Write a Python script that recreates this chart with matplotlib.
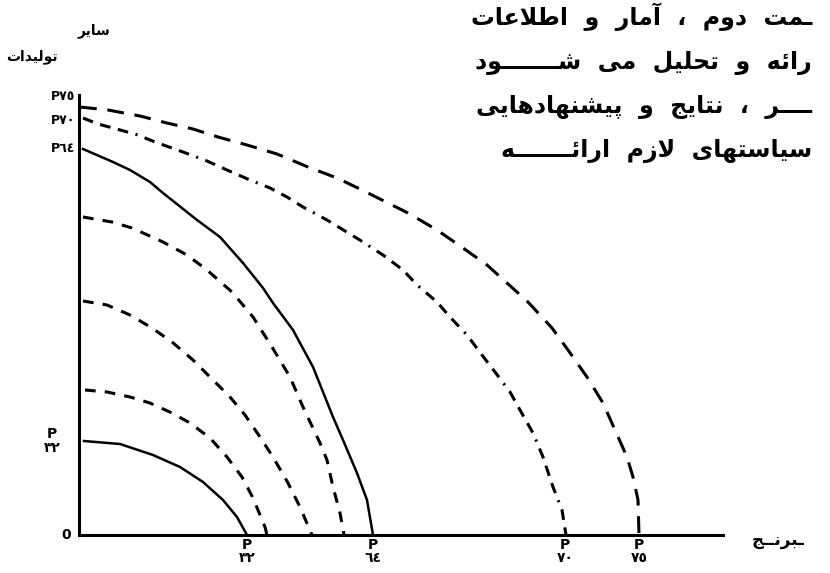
import matplotlib
matplotlib.use('Agg')
import matplotlib.pyplot as plt

plt.rcParams['font.family'] = ['DejaVu Sans']
plt.rcParams['font.weight'] = 'bold'

# curve points (distance from the origin, in picture units)
a_x = [5, 41, 74, 101, 124, 144, 158, 168]
a_y = [94, 91, 80, 68, 53, 35, 18, 0]
b_x = [6, 28, 51, 71, 93, 111, 131, 148, 163, 174, 186, 188]
b_y = [145, 143, 138, 132, 122, 112, 97, 78, 58, 37, 8, 0]
c_x = [4, 28, 51, 73, 93, 114, 131, 151, 166, 181, 194, 209, 221, 233]
c_y = [234, 230, 220, 207, 193, 175, 158, 138, 120, 98, 78, 52, 28, 0]
d_x = [4, 33, 53, 84, 108, 128, 153, 174, 193, 211, 224, 241, 248, 254, 261, 265]
d_y = [318, 313, 307, 293, 280, 265, 243, 218, 188, 158, 128, 92, 75, 48, 22, 0]
e_x = [4, 34, 51, 71, 84, 118, 141, 164, 184, 194, 214, 234, 254, 264, 278, 288, 294]
e_y = [386, 373, 365, 353, 342, 315, 298, 272, 247, 232, 205, 168, 118, 95, 62, 35, 0]
f_x = [4, 19, 34, 59, 76, 104, 128, 148, 171, 191, 208, 224, 248, 271, 284, 304,
       324, 338, 358, 371, 388, 403, 416, 431, 441, 454, 464, 474, 483, 487]
f_y = [417, 411, 407, 400, 393, 383, 374, 365, 355, 347, 338, 328, 315, 301, 293, 280,
       265, 250, 233, 218, 200, 180, 163, 143, 125, 102, 78, 48, 25, 0]
g_x = [1, 29, 61, 88, 114, 139, 168, 198, 229, 258, 283, 309, 329, 358, 384, 408,
       428, 449, 473, 489, 508, 524, 536, 548, 554, 559, 560]
g_y = [428, 425, 419, 412, 406, 398, 390, 381, 368, 357, 345, 332, 322, 305, 287, 270,
       252, 233, 207, 185, 158, 132, 105, 78, 58, 35, 0]

x_ticks = [168, 294, 486, 560]
x_labels = ['P\n٣٢', 'P\n٦٤', 'P\n٧٠', 'P\n٧٥']
y_labels = ['P٧٥', 'P٧٠', 'P٦٤']

text_lines = ['ـمت  دوم  ،  آمار  و  اطلاعات',
              'رائه  و  تحلیل  می  شـــــــود',
              'ــــر  ،  نتایج  و  پیشنهادهایی',
              'سیاستهای  لازم  ارائـــــــه']

# arabic letters -> presentation forms (isolated, final, initial, medial)
FORMS = {
    'ا': (0xFE8D, 0xFE8E), 'آ': (0xFE81, 0xFE82),
    'د': (0xFEA9, 0xFEAA), 'ر': (0xFEAD, 0xFEAE),
    'ز': (0xFEAF, 0xFEB0), 'و': (0xFEED, 0xFEEE),
    'ئ': (0xFE89, 0xFE8A, 0xFE8B, 0xFE8C), 'ب': (0xFE8F, 0xFE90, 0xFE91, 0xFE92),
    'پ': (0xFB56, 0xFB57, 0xFB58, 0xFB59), 'ت': (0xFE95, 0xFE96, 0xFE97, 0xFE98),
    'ج': (0xFE9D, 0xFE9E, 0xFE9F, 0xFEA0), 'ح': (0xFEA1, 0xFEA2, 0xFEA3, 0xFEA4),
    'س': (0xFEB1, 0xFEB2, 0xFEB3, 0xFEB4), 'ش': (0xFEB5, 0xFEB6, 0xFEB7, 0xFEB8),
    'ط': (0xFEC1, 0xFEC2, 0xFEC3, 0xFEC4), 'ع': (0xFEC9, 0xFECA, 0xFECB, 0xFECC),
    'ق': (0xFED5, 0xFED6, 0xFED7, 0xFED8), 'ک': (0xFB8E, 0xFB8F, 0xFB90, 0xFB91),
    'ل': (0xFEDD, 0xFEDE, 0xFEDF, 0xFEE0), 'م': (0xFEE1, 0xFEE2, 0xFEE3, 0xFEE4),
    'ن': (0xFEE5, 0xFEE6, 0xFEE7, 0xFEE8), 'ه': (0xFEE9, 0xFEEA, 0xFEEB, 0xFEEC),
    'ی': (0xFBFC, 0xFBFD, 0xFBFE, 0xFBFF),
}
TATWEEL = 'ـ'


def fa(text):
    out = []
    i = 0
    while i < len(text):
        ch = text[i]
        prev = text[i - 1] if i > 0 else ''
        nxt = text[i + 1] if i + 1 < len(text) else ''
        join_prev = prev == TATWEEL or len(FORMS.get(prev, ())) == 4
        if ch == 'ل' and nxt in ('ا', 'آ'):
            base = 0xFEFB if nxt == 'ا' else 0xFEF5
            out.append(chr(base + 1 if join_prev else base))
            i += 2
            continue
        if ch in FORMS:
            f = FORMS[ch]
            if len(f) == 2:
                out.append(chr(f[1] if join_prev else f[0]))
            else:
                join_next = nxt in FORMS or nxt == TATWEEL
                out.append(chr(f[(2 if join_next else 0) + (1 if join_prev else 0)]))
        else:
            out.append(ch)
        i += 1
    return ''.join(reversed(out))


W, H = 830, 573
fig = plt.figure(figsize=(W / 100, H / 100), dpi=100)
ax = fig.add_axes([79 / W, 38 / H, 644 / W, 440 / H])
ax.set_xlim(0, 644)
ax.set_ylim(0, 440)

ax.plot(a_x, a_y, color='black', lw=1.8, clip_on=False)
ax.plot(b_x, b_y, color='black', lw=2.2, ls=(0, (3.5, 3)), clip_on=False)
ax.plot(c_x, c_y, color='black', lw=2.2, ls=(0, (3.5, 3)), clip_on=False)
ax.plot(d_x, d_y, color='black', lw=2.2, ls=(0, (3.5, 3)), clip_on=False)
ax.plot(e_x, e_y, color='black', lw=1.8, clip_on=False)
ax.plot(f_x, f_y, color='black', lw=2.2,
        ls=(0, (3.5, 2.5, 3.5, 2.5, 3.5, 2.5, 0.7, 2.5)), clip_on=False)
ax.plot(g_x, g_y, color='black', lw=2.2, ls=(0, (5.5, 3.5)), clip_on=False)

for s in ['top', 'right']:
    ax.spines[s].set_visible(False)
for s in ['left', 'bottom']:
    ax.spines[s].set_linewidth(2.2)

ax.set_xticks(x_ticks, x_labels, fontsize=10, fontweight='bold', linespacing=0.95)
ax.tick_params(axis='x', length=0, pad=2)
ax.set_yticks([])

ax.text(-27, 94, 'P\n٣٢', ha='center', va='center', fontsize=10, linespacing=0.95)
for y, lab in zip([438, 414, 387], y_labels):
    ax.text(-16, y, lab, ha='center', va='center', fontsize=9)
ax.text(-13, 0, '0', ha='center', va='center', fontsize=10)

fig.text(94 / W, 1 - 31 / H, fa('سایر'), ha='center', va='center', fontsize=10)
fig.text(32 / W, 1 - 57 / H, fa('تولیدات'), ha='center', va='center', fontsize=10)
fig.text(778 / W, 1 - 540 / H, fa('ـبرنــج'), ha='center', va='center', fontsize=12)

for k, line in enumerate(text_lines):
    fig.text(812 / W, 1 - (25 + 44 * k) / H, fa(line), ha='right', va='baseline', fontsize=17)

fig.savefig('out.png', dpi=100)
